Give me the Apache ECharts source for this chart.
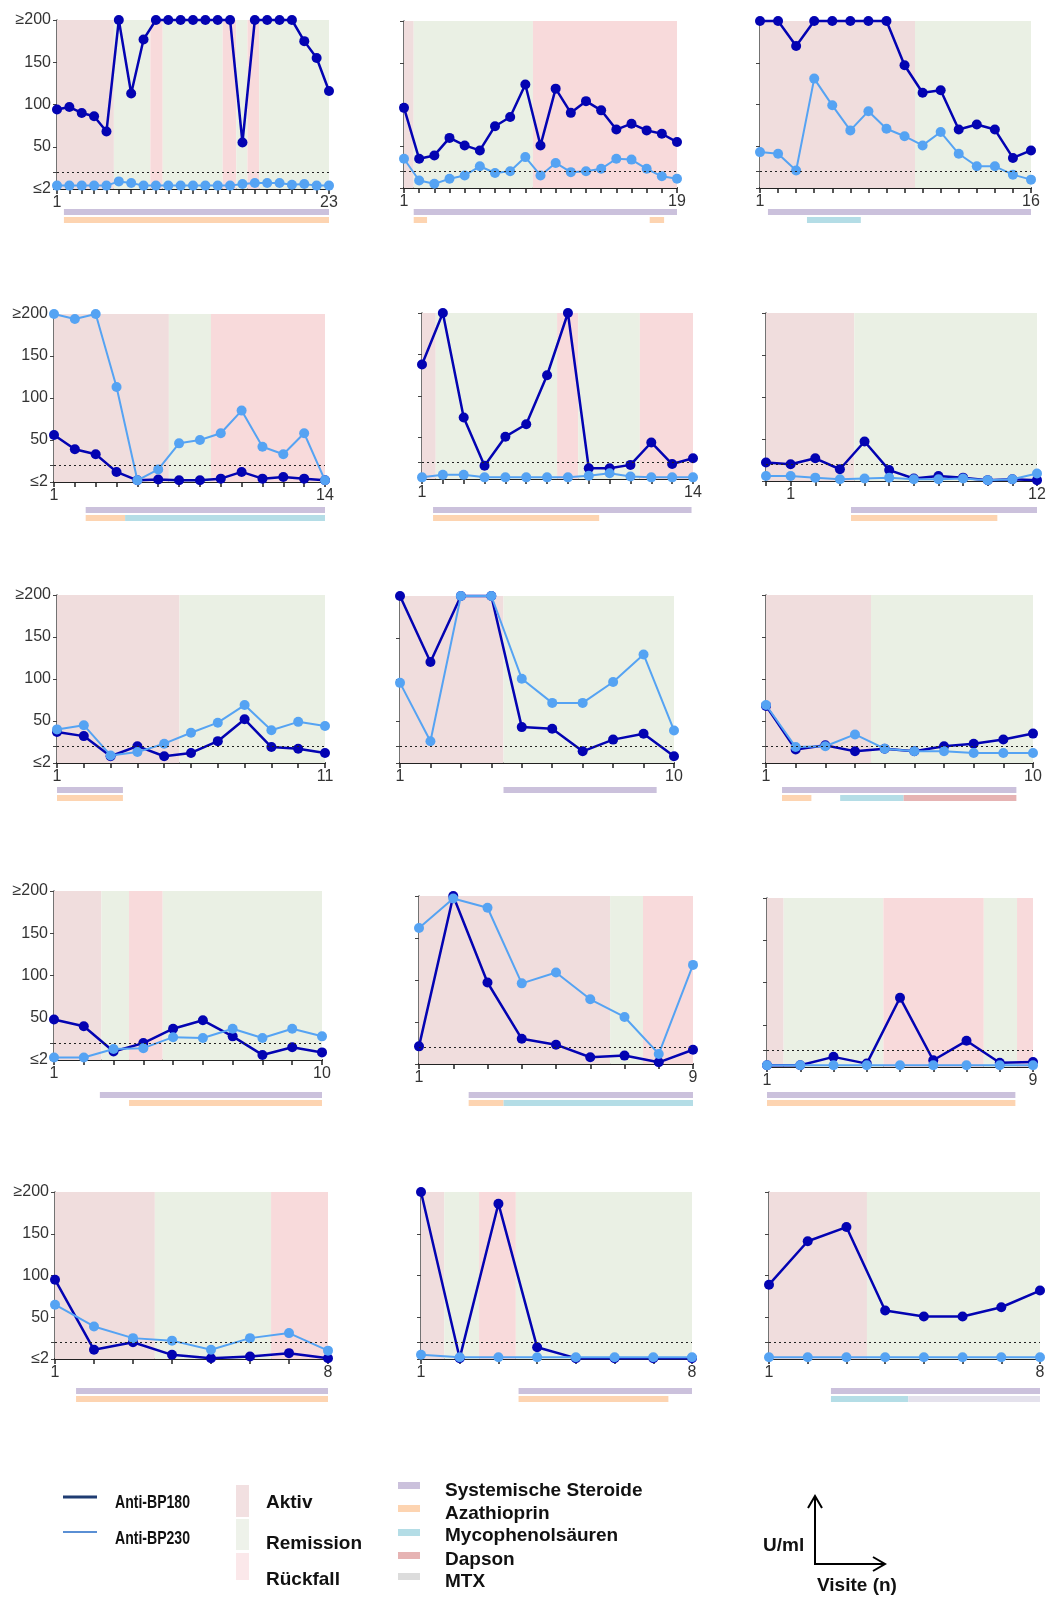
<!DOCTYPE html>
<html>
<head>
<meta charset="utf-8">
<script src="https://cdn.jsdelivr.net/npm/echarts@6.0.0/dist/echarts.min.js"></script>
<style>
  html, body { margin: 0; padding: 0; background: #fff; }
  #chart { width: 1055px; height: 1597px; }
</style>
</head>
<body>
<div id="chart"></div>
<script>
// Anti-BP180 (U/ml) per visit, one list per patient
const bp180 = [
  [94, 97, 90, 86, 68, 200, 113, 177, 200, 200, 200, 200, 200, 200, 200, 55, 200, 200, 200, 200, 175, 155, 116],
  [96, 35, 39, 60, 51, 45, 74, 85, 124, 51, 119, 90, 104, 93, 70, 77, 69, 65, 55],
  [200, 200, 170, 200, 200, 200, 200, 200, 147, 114, 117, 70, 76, 70, 36, 45],
  [56, 39, 33, 12, 2, 3, 2, 2, 4, 12, 4, 6, 4, 2],
  [138, 200, 74, 16, 51, 66, 125, 200, 13, 13, 17, 44, 18, 25],
  [22, 20, 27, 14, 47, 13, 3, 6, 4, 1, 2, 1],
  [37, 32, 8, 20, 8, 12, 26, 52, 19, 17, 12],
  [200, 121, 200, 200, 43, 41, 14, 28, 35, 8],
  [68, 16, 21, 14, 17, 14, 20, 23, 28, 35],
  [48, 40, 10, 20, 37, 47, 28, 6, 15, 9],
  [21, 200, 97, 30, 23, 8, 10, 2, 17],
  [2, 2, 12, 4, 82, 8, 31, 5, 6],
  [95, 11, 20, 5, 1, 3, 7, 1],
  [200, 1, 186, 14, 1, 1, 1, 1],
  [89, 141, 158, 58, 51, 51, 62, 82]
];

// Anti-BP230 (U/ml) per visit
const bp230 = [
  [4, 4, 4, 4, 4, 9, 7, 4, 4, 4, 4, 4, 4, 4, 4, 6, 7, 7, 7, 5, 6, 4, 4],
  [35, 9, 5, 11, 15, 26, 18, 20, 37, 15, 30, 19, 20, 23, 35, 34, 23, 14, 11],
  [43, 41, 21, 131, 99, 69, 92, 71, 62, 51, 67, 41, 26, 26, 16, 10],
  [200, 194, 200, 113, 2, 15, 46, 50, 58, 85, 42, 33, 58, 2],
  [2, 5, 5, 2, 2, 2, 2, 2, 4, 7, 3, 2, 2, 2],
  [6, 6, 4, 2, 3, 4, 2, 2, 3, 1, 2, 9],
  [40, 45, 9, 13, 23, 36, 48, 69, 39, 49, 44],
  [96, 26, 200, 200, 101, 72, 72, 97, 130, 39],
  [69, 19, 20, 34, 17, 14, 14, 12, 12, 12],
  [3, 3, 13, 14, 27, 26, 37, 26, 37, 28],
  [162, 197, 186, 96, 109, 77, 56, 12, 118],
  [2, 2, 2, 2, 2, 2, 2, 2, 2],
  [65, 39, 25, 22, 11, 25, 31, 10],
  [5, 2, 2, 2, 2, 2, 2, 2],
  [2, 2, 2, 2, 2, 2, 2, 2]
];

// disease phase: [from visit, to visit, 0 Aktiv / 1 Remission / 2 Rückfall]
const phases = [
  [[1, 5.6, 0], [5.6, 8.55, 1], [8.55, 9.55, 2], [9.55, 14.4, 1], [14.4, 15.5, 2], [15.5, 16.4, 1], [16.4, 17.35, 2], [17.35, 23, 1]],
  [[1, 1.64, 0], [1.64, 9.5, 1], [9.5, 19, 2]],
  [[1, 9.58, 0], [9.58, 16, 1]],
  [[1, 6.51, 0], [6.51, 8.53, 1], [8.53, 14, 2]],
  [[1, 1.66, 0], [1.66, 7.48, 1], [7.48, 8.49, 2], [8.49, 11.45, 1], [11.45, 14, 2]],
  [[1, 4.58, 0], [4.58, 12, 1]],
  [[1, 5.57, 0], [5.57, 11, 1]],
  [[1, 4.4, 0], [4.4, 10, 1]],
  [[1, 4.54, 0], [4.54, 10, 1]],
  [[1, 2.59, 0], [2.59, 3.52, 1], [3.52, 4.65, 2], [4.65, 10, 1]],
  [[1, 6.58, 0], [6.58, 7.54, 1], [7.54, 9, 2]],
  [[1, 1.5, 0], [1.5, 4.5, 1], [4.5, 7.52, 2], [7.52, 8.52, 1], [8.52, 9, 2]],
  [[1, 3.56, 0], [3.56, 6.54, 1], [6.54, 8, 2]],
  [[1, 1.6, 0], [1.6, 2.5, 1], [2.5, 3.45, 2], [3.45, 8, 1]],
  [[1, 3.53, 0], [3.53, 8, 1]]
];

// therapy bars: [row, from visit, to visit, 0 Steroide / 1 Aza / 2 Myco / 3 Dapson / 4 MTX]
const therapy = [
  [[0, 1.56, 23, 0], [1, 1.56, 23, 1]],
  [[0, 1.64, 19, 0], [1, 1.64, 2.52, 1], [1, 17.2, 18.15, 1]],
  [[0, 1.44, 16, 0], [1, 3.6, 6.58, 2]],
  [[0, 2.52, 14, 0], [1, 2.52, 4.41, 1], [1, 4.41, 14, 2]],
  [[0, 1.53, 13.93, 0], [1, 1.53, 9.5, 1]],
  [[0, 4.45, 12, 0], [1, 4.45, 10.39, 1]],
  [[0, 1, 3.46, 0], [1, 1, 3.46, 1]],
  [[0, 4.4, 9.43, 0]],
  [[0, 1.54, 9.44, 0], [1, 1.54, 2.53, 1], [1, 3.5, 5.64, 2], [1, 5.64, 9.44, 3]],
  [[0, 2.54, 10, 0], [1, 3.52, 10, 1]],
  [[0, 2.45, 9, 0], [1, 2.45, 3.47, 1], [1, 3.47, 9, 2]],
  [[0, 1, 8.47, 0], [1, 1, 8.47, 1]],
  [[0, 1.54, 8, 0], [1, 1.54, 8, 1]],
  [[0, 3.52, 8, 0], [1, 3.52, 7.39, 1]],
  [[0, 2.6, 8, 0], [1, 2.6, 4.6, 2], [1, 4.6, 8, 4]]
];

const yTickValues = [0, 20, 50, 100, 150, 200];
const yLabelValues = [0, 50, 100, 150, 200];
const cutoff = 20;

const phaseNames = ["Aktiv", "Remission", "Rückfall"];
const therapyNames = ["Systemische Steroide", "Azathioprin", "Mycophenolsäuren", "Dapson", "MTX"];

// layout of the small multiples: [left, top, width, height] and therapy row y
const panelBox = [
  [57, 20, 272, 169], [404, 21, 273, 167], [760, 21, 271, 167],
  [54, 314, 271, 168], [422, 313, 271, 166], [766, 313, 271, 168],
  [57, 595, 268, 168], [400, 596, 274, 167], [766, 595, 267, 168],
  [54, 891, 268, 169], [419, 896, 274, 168], [767, 898, 266, 169],
  [55, 1192, 273, 167], [421, 1192, 271, 167], [769, 1192, 271, 167]
];
const therapyRowY = [212, 212, 212, 510, 510, 510, 790, 790, 790, 1095, 1095, 1095, 1391, 1391, 1391];

const phaseColors = ["#f0dddd", "#eaf0e4", "#f8dadb"];
const therapyColors = ["#cbc1dc", "#fdd4b1", "#b4dde6", "#e6b3b3", "#e4e1ec"];
const darkBlue = "#0303b2";
const lightBlue = "#55a3f3";
const FONT = "Liberation Sans, Arial, sans-serif";

let dom = document.getElementById("chart");
let myChart = echarts.init(dom, null, { renderer: "canvas" });

const grids = [];
const xAxes = [];
const yAxes = [];
const seriesList = [];

panelBox.forEach(function (box, i) {
  const n = bp180[i].length;
  const showY = i % 3 === 0;
  const firstLabel = i === 5 ? 2 : 1; // label "1" sits one tick to the right in this panel

  // main chart grid
  grids.push({ left: box[0], top: box[1], width: box[2], height: box[3] });
  xAxes.push({
    type: "value",
    gridIndex: 2 * i,
    min: 1,
    max: n,
    interval: 1,
    axisLine: { lineStyle: { color: "#222", width: 2 } },
    axisTick: { length: 5, lineStyle: { color: "#222", width: 1.5 } },
    splitLine: { show: false },
    axisLabel: {
      margin: 6,
      fontSize: 16,
      fontFamily: FONT,
      color: "#333",
      showMinLabel: true,
      showMaxLabel: true,
      formatter: function (v) {
        if (v === firstLabel) return "1";
        if (v === n) return String(n);
        return "";
      },
    },
  });
  yAxes.push({
    type: "value",
    gridIndex: 2 * i,
    min: 0,
    max: 200,
    axisLine: { show: true, lineStyle: { color: "#444", width: 1.5 } },
    axisTick: { show: true, length: 4, customValues: yTickValues, lineStyle: { color: "#444" } },
    splitLine: { show: false },
    axisLabel: {
      show: showY,
      customValues: yLabelValues,
      margin: 6,
      fontSize: 16,
      fontFamily: FONT,
      color: "#333",
      formatter: function (v) {
        if (v === 0) return "≤2";
        if (v === 200) return "≥200";
        return String(v);
      },
    },
  });

  // therapy grid under the chart
  grids.push({ left: box[0], top: therapyRowY[i], width: box[2], height: 8 });
  xAxes.push({ type: "value", gridIndex: 2 * i + 1, min: 1, max: n, show: false });
  yAxes.push({ type: "value", gridIndex: 2 * i + 1, min: 0, max: 1, inverse: true, show: false });

  const visits = bp180[i].map(function (v, k) { return k + 1; });

  // phase bands + cutoff line
  seriesList.push({
    type: "line",
    xAxisIndex: 2 * i,
    yAxisIndex: 2 * i,
    data: visits.map(function (x, k) { return [x, bp180[i][k]]; }),
    symbol: "none",
    silent: true,
    z: 1,
    lineStyle: { opacity: 0 },
    markArea: {
      silent: true,
      data: phases[i].map(function (p) {
        return [{ xAxis: p[0], itemStyle: { color: phaseColors[p[2]] } }, { xAxis: p[1] }];
      }),
    },
    markLine: {
      silent: true,
      symbol: "none",
      label: { show: false },
      lineStyle: { type: [2, 3], color: "#222", width: 1 },
      data: [{ yAxis: cutoff }],
    },
  });

  seriesList.push({
    name: "Anti-BP180",
    type: "line",
    xAxisIndex: 2 * i,
    yAxisIndex: 2 * i,
    data: visits.map(function (x, k) { return [x, bp180[i][k]]; }),
    symbol: "circle",
    symbolSize: 10,
    clip: false,
    z: 3,
    itemStyle: { color: darkBlue },
    lineStyle: { color: darkBlue, width: 2.5 },
  });

  seriesList.push({
    name: "Anti-BP230",
    type: "line",
    xAxisIndex: 2 * i,
    yAxisIndex: 2 * i,
    data: visits.map(function (x, k) { return [x, bp230[i][k]]; }),
    symbol: "circle",
    symbolSize: 10,
    clip: false,
    z: 4,
    itemStyle: { color: lightBlue },
    lineStyle: { color: lightBlue, width: 2 },
  });

  seriesList.push({
    type: "custom",
    xAxisIndex: 2 * i + 1,
    yAxisIndex: 2 * i + 1,
    data: therapy[i],
    encode: { x: [1, 2], y: 0 },
    silent: true,
    renderItem: function (params, api) {
      const row = api.value(0);
      const a = api.coord([api.value(1), row]);
      const b = api.coord([api.value(2), row]);
      return {
        type: "rect",
        shape: { x: a[0], y: a[1] - 3, width: b[0] - a[0], height: 6 },
        style: { fill: therapyColors[api.value(3)] },
      };
    },
  });
});

// legend drawn at the bottom
const legendFont = "bold 19px 'Liberation Sans', Arial, sans-serif";
const graphics = [];
function addText(text, x, y, scaleX) {
  graphics.push({
    type: "text",
    x: x,
    y: y,
    scaleX: scaleX || 1,
    style: { text: text, font: legendFont, fill: "#111", align: "left", verticalAlign: "middle" },
  });
}

graphics.push({ type: "line", shape: { x1: 63, y1: 1497, x2: 97, y2: 1497 }, style: { stroke: "#1f3c72", lineWidth: 3 } });
graphics.push({ type: "line", shape: { x1: 63, y1: 1532, x2: 97, y2: 1532 }, style: { stroke: "#5a8fd4", lineWidth: 2 } });
addText("Anti-BP180", 115, 1503, 0.74);
addText("Anti-BP230", 115, 1539, 0.74);

const phaseSwatchY = [[1485, 1517], [1519, 1550], [1553, 1580]];
const phaseSwatchColors = ["#f2e0e1", "#eef2ea", "#fbe8ea"];
const phaseTextY = [1503, 1544, 1580];
phaseNames.forEach(function (name, k) {
  graphics.push({
    type: "rect",
    shape: { x: 236, y: phaseSwatchY[k][0], width: 13, height: phaseSwatchY[k][1] - phaseSwatchY[k][0] },
    style: { fill: phaseSwatchColors[k] },
  });
  addText(name, 266, phaseTextY[k]);
});

const therapySwatchY = [1485, 1508, 1532, 1555, 1576];
const therapyTextY = [1491, 1514, 1536, 1560, 1582];
therapyNames.forEach(function (name, k) {
  graphics.push({
    type: "rect",
    shape: { x: 398, y: therapySwatchY[k] - 3, width: 22, height: 7 },
    style: { fill: k === 4 ? "#dcdcdc" : therapyColors[k] },
  });
  addText(name, 445, therapyTextY[k]);
});

// unit / visit axis icon
graphics.push({ type: "polyline", shape: { points: [[815, 1497], [815, 1564], [884, 1564]] }, style: { stroke: "#000", lineWidth: 2, fill: null } });
graphics.push({ type: "polyline", shape: { points: [[808, 1508], [815, 1496], [822, 1508]] }, style: { stroke: "#000", lineWidth: 2, fill: null } });
graphics.push({ type: "polyline", shape: { points: [[873, 1557], [885, 1564], [873, 1571]] }, style: { stroke: "#000", lineWidth: 2, fill: null } });
addText("U/ml", 763, 1546);
addText("Visite (n)", 817, 1586);

const option = {
  animation: false,
  backgroundColor: "#fff",
  grid: grids,
  xAxis: xAxes,
  yAxis: yAxes,
  series: seriesList,
  graphic: graphics,
};

myChart.setOption(option);

window.addEventListener("resize", function () {
  myChart.resize();
});
</script>
</body>
</html>
